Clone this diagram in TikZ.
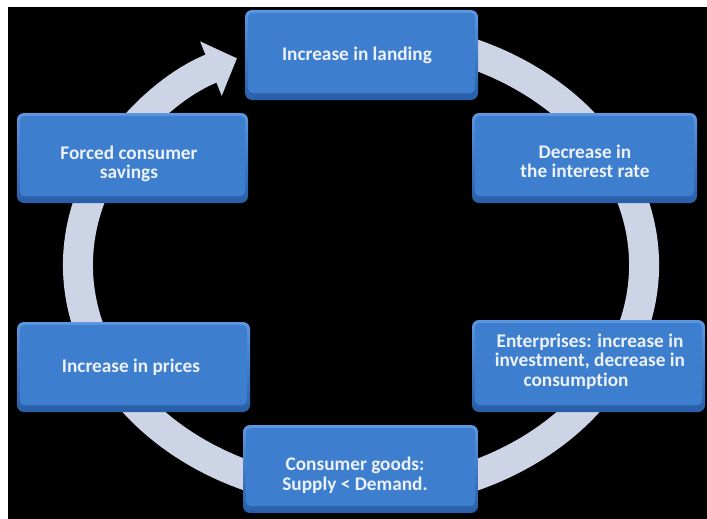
\documentclass[tikz,border=0pt]{standalone}
\usepackage{fontspec}
\setmainfont{Carlito}[Ligatures=NoCommon]
\usetikzlibrary{arrows.meta}
\definecolor{boxblue}{RGB}{62,126,206}
\definecolor{boxrim}{RGB}{92,152,226}
\definecolor{boxdark}{RGB}{40,94,168}
\definecolor{ringcol}{RGB}{205,212,230}
\definecolor{txtcol}{RGB}{236,241,250}
\begin{document}
\begin{tikzpicture}[x=1pt,y=-1pt,
  box/.style={rounded corners=7pt, top color=boxrim, bottom color=boxdark,
    inner sep=0pt},
  boxtext/.style={text=txtcol, font=\fontsize{19.3}{19.5}\selectfont\bfseries,
    align=center, inner sep=0pt},
  ring/.style={draw=ringcol, line width=30pt}]
\useasboundingbox (0,0) rectangle (707,519);
\fill[black] (8,7) rectangle (707,519);
% cycle ring with arrow head
\draw[ring, -{Triangle[width=57pt,length=28pt]}] (457.8,48.9)
  arc[start angle=-70, end angle=244, x radius=283, y radius=230];
% boxes
\node[box, minimum width=233pt, minimum height=90pt] (landing) at (361.5,55) {};
\node[box, minimum width=225pt, minimum height=90pt] (rate) at (584.5,158) {};
\node[box, minimum width=233pt, minimum height=92pt] (enterprises) at (588.5,366) {};
\node[box, minimum width=235pt, minimum height=88pt] (goods) at (360.5,469) {};
\node[box, minimum width=233pt, minimum height=90pt] (prices) at (133.5,367) {};
\node[box, minimum width=231pt, minimum height=90pt] (savings) at (132.5,158) {};
\foreach \n in {landing,rate,enterprises,goods,prices,savings}
  \fill[boxblue, rounded corners=5pt] ([shift={(3,3)}]\n.north west)
    rectangle ([shift={(-3,-7)}]\n.south east);
% texts
\node[boxtext] (landingT) at (357,55) {Increase in landing};
\node[boxtext] (rateT) at (585,161.5) {Decrease in\\the interest rate};
\node[boxtext] (enterprisesT) at (590,361.5) {Enterprises: increase in\\investment, decrease in\\consumption\hspace*{28pt}};
\node[boxtext] (goodsT) at (355,475) {Consumer goods:\\Supply < Demand.};
\node[boxtext] (pricesT) at (131,367) {Increase in prices};
\node[boxtext] (savingsT) at (129,164) {Forced consumer\\savings};
\end{tikzpicture}
\end{document}
